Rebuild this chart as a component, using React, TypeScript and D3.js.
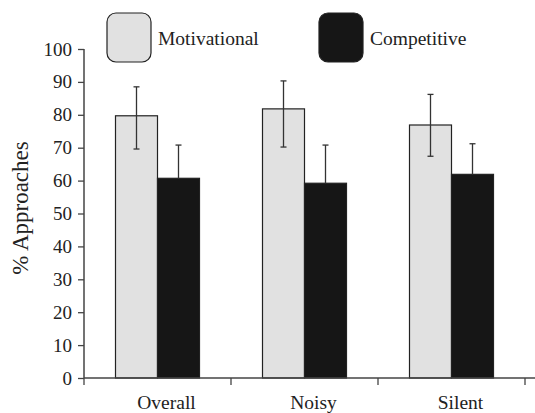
import { useRef, useEffect } from "react";
import * as d3 from "d3";

const categories = ["Overall", "Noisy", "Silent"];
const seriesNames = ["Motivational", "Competitive"];
const motivational = [79.7, 81.8, 76.9];
const motivationalErrUp = [8.8, 8.5, 9.3];
const motivationalErrDown = [10.1, 11.6, 9.5];
const competitive = [60.7, 59.2, 61.9];
const competitiveErrUp = [10.1, 11.6, 9.3];
const yTicks = [0, 10, 20, 30, 40, 50, 60, 70, 80, 90, 100];

const colors = ["#e1e1e1", "#161616"];
const font = "'Liberation Serif', 'Times New Roman', serif";

export default function App() {
  const svgRef = useRef<SVGSVGElement>(null);

  useEffect(() => {
    if (!svgRef.current) return;
    const svg = d3.select(svgRef.current);
    svg.selectAll("*").remove();

    const width = 535;
    const height = 413;
    const left = 84;
    const plotBottom = 378;
    const plotTop = 49;
    const bandW = 147;
    const groupW = 84;

    svg.attr("width", width).attr("height", height);

    const x = d3
      .scaleBand()
      .domain(categories)
      .range([left, left + bandW * categories.length]);
    const xInner = d3.scaleBand().domain(seriesNames).range([0, groupW]);
    const y = d3.scaleLinear().domain([0, 100]).range([plotBottom, plotTop]);

    const rows = categories.map((c, i) => ({
      cat: c,
      vals: [
        { s: seriesNames[0], v: motivational[i], up: motivationalErrUp[i], down: motivationalErrDown[i], color: colors[0] },
        { s: seriesNames[1], v: competitive[i], up: competitiveErrUp[i], down: 0, color: colors[1] },
      ],
    }));

    const groups = svg
      .selectAll(".grp")
      .data(rows)
      .enter()
      .append("g")
      .attr("transform", (d) => `translate(${(x(d.cat) || 0) + (x.bandwidth() - groupW) / 2},0)`);

    // Bars
    groups
      .selectAll("rect")
      .data((d) => d.vals)
      .enter()
      .append("rect")
      .attr("x", (b) => xInner(b.s) || 0)
      .attr("y", (b) => y(b.v))
      .attr("width", xInner.bandwidth())
      .attr("height", (b) => plotBottom - y(b.v))
      .attr("fill", (b) => b.color)
      .attr("stroke", "#222")
      .attr("stroke-width", 1.2);

    // Error bars
    groups.each(function (d) {
      const g = d3.select(this);
      d.vals.forEach((b) => {
        const cx = (xInner(b.s) || 0) + xInner.bandwidth() / 2;
        const hi = b.v + b.up;
        const lo = b.v - b.down;
        g.append("line")
          .attr("x1", cx).attr("x2", cx)
          .attr("y1", y(hi)).attr("y2", y(lo))
          .attr("stroke", "#333").attr("stroke-width", 1.3);
        g.append("line")
          .attr("x1", cx - 3).attr("x2", cx + 3)
          .attr("y1", y(hi)).attr("y2", y(hi))
          .attr("stroke", "#333").attr("stroke-width", 1.3);
        if (b.down > 0) {
          g.append("line")
            .attr("x1", cx - 3).attr("x2", cx + 3)
            .attr("y1", y(lo)).attr("y2", y(lo))
            .attr("stroke", "#333").attr("stroke-width", 1.3);
        }
      });
    });

    // Y axis
    const yAxis = svg
      .append("g")
      .attr("transform", `translate(${left},0)`)
      .call(d3.axisLeft(y).tickValues(yTicks).tickSize(6).tickPadding(6));
    yAxis.select(".domain").attr("stroke", "#444").attr("stroke-width", 1.5).attr("d", `M0,${plotTop}V${plotBottom}`);
    yAxis.selectAll(".tick line").attr("stroke", "#444").attr("stroke-width", 1.3);
    yAxis
      .selectAll(".tick text")
      .attr("fill", "#222")
      .attr("font-family", font)
      .attr("font-size", "19px");

    // X axis
    const xAxis = svg.append("g").attr("transform", `translate(0,${plotBottom})`);
    xAxis
      .append("line")
      .attr("x1", left).attr("x2", width)
      .attr("y1", 0).attr("y2", 0)
      .attr("stroke", "#444").attr("stroke-width", 1.5);
    const boundaries = d3.range(categories.length + 1).map((i) => left + i * bandW);
    xAxis
      .selectAll(".xt")
      .data(boundaries)
      .enter()
      .append("line")
      .attr("x1", (d) => d).attr("x2", (d) => d)
      .attr("y1", 0).attr("y2", 7)
      .attr("stroke", "#444").attr("stroke-width", 1.3);
    xAxis
      .selectAll(".xl")
      .data(categories)
      .enter()
      .append("text")
      .attr("x", (d) => (x(d) || 0) + x.bandwidth() / 2 + 9)
      .attr("y", 31)
      .attr("text-anchor", "middle")
      .attr("font-family", font)
      .attr("font-size", "19.5px")
      .attr("fill", "#222")
      .text((d) => d);

    // Y label
    svg
      .append("text")
      .attr("transform", `translate(28,208) rotate(-90)`)
      .attr("text-anchor", "middle")
      .attr("font-family", font)
      .attr("font-size", "23px")
      .attr("fill", "#222")
      .text("% Approaches");

    // Legend
    const legendX = [107, 319];
    const legend = svg
      .selectAll(".leg")
      .data(seriesNames)
      .enter()
      .append("g")
      .attr("transform", (_, i) => `translate(${legendX[i]},13)`);
    legend
      .append("rect")
      .attr("width", 44)
      .attr("height", 49)
      .attr("rx", 9)
      .attr("fill", (_, i) => colors[i])
      .attr("stroke", "#222")
      .attr("stroke-width", 1.2);
    legend
      .append("text")
      .attr("x", 51)
      .attr("y", 32)
      .attr("font-family", font)
      .attr("font-size", "19.5px")
      .attr("fill", "#222")
      .text((d) => d);
  }, []);

  return (
    <svg
      ref={svgRef}
      style={{ position: "absolute", left: 0, top: 0, background: "#fff" }}
    />
  );
}
